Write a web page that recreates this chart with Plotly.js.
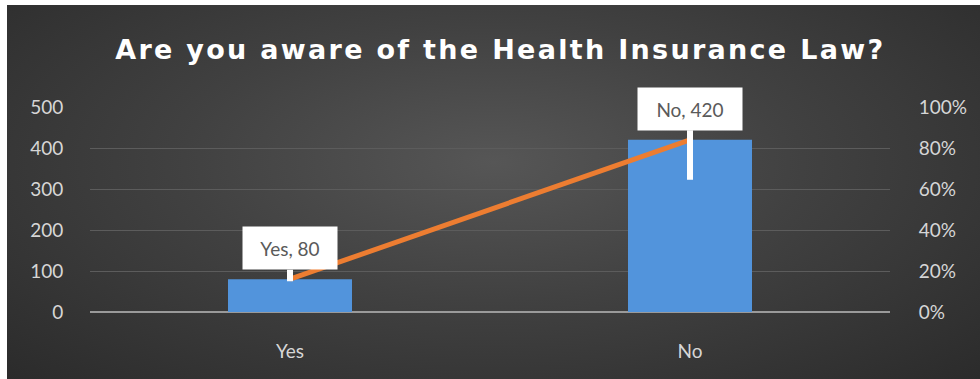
<!DOCTYPE html>
<html>
<head>
<meta charset="utf-8">
<script src="https://cdn.plot.ly/plotly-3.0.1.min.js"></script>
<style>
  html, body { margin: 0; padding: 0; background: #ffffff; width: 980px; height: 379px; overflow: hidden; }
  #wrap { position: absolute; left: 7px; top: 5px; width: 973px; height: 374px;
    background: radial-gradient(ellipse at 50% 42%, #565656 0%, #414141 45%, #2b2b2b 100%); }
  #chart { width: 973px; height: 374px; }
  #chart .gtitle { letter-spacing: 2.3px; }
</style>
</head>
<body>
<div id="wrap"><div id="chart"></div></div>
<script>
const categories = ['Yes', 'No'];
const counts = [80, 420];
const leftTicks = [0, 100, 200, 300, 400, 500];
const rightTicks = [0, 0.2, 0.4, 0.6, 0.8, 1.0];
const rightTickText = ['0%', '20%', '40%', '60%', '80%', '100%'];
const labelText = ['Yes, 80', 'No, 420'];

const total = counts.reduce((a, b) => a + b, 0);
const shares = counts.map(v => v / total);

const tickFont = { family: 'Lato, "Open Sans", sans-serif', size: 19, color: '#d6d6d6' };

const data = [
  { type: 'bar', x: categories, y: counts, width: 0.31,
    marker: { color: '#5294dc', line: { width: 0 } }, yaxis: 'y', hoverinfo: 'skip' },
  { type: 'scatter', mode: 'lines', x: categories, y: shares, yaxis: 'y2',
    line: { color: '#ed7d31', width: 5 }, hoverinfo: 'skip' }
];

const annotations = [
  { x: categories[0], y: counts[0], text: labelText[0], showarrow: true, arrowhead: 0,
    arrowwidth: 6, arrowcolor: '#ffffff', ax: 0, ay: -33, yshift: -2, standoff: 0,
    bgcolor: '#ffffff', borderpad: 6, width: 82, height: 30,
    font: { family: 'Lato, "Open Sans", sans-serif', size: 19, color: '#5a5a5a' } },
  { x: categories[1], y: counts[1], text: labelText[1], showarrow: true, arrowhead: 0,
    arrowwidth: 6, arrowcolor: '#ffffff', ax: 0, ay: -71, yshift: -40, standoff: 0,
    bgcolor: '#ffffff', borderpad: 6, width: 92, height: 30,
    font: { family: 'Lato, "Open Sans", sans-serif', size: 19, color: '#5a5a5a' } }
];

const layout = {
  width: 973, height: 374,
  paper_bgcolor: 'rgba(0,0,0,0)', plot_bgcolor: 'rgba(0,0,0,0)',
  margin: { l: 83, r: 90, t: 102, b: 67 },
  showlegend: false,
  bargap: 0.69,
  title: { text: 'Are you aware of the Health Insurance Law?', x: 0.507, xanchor: 'center',
    y: 0.88, yanchor: 'middle', yref: 'container',
    font: { family: '"DejaVu Sans", sans-serif', size: 27, color: '#ffffff', weight: 'bold' } },
  xaxis: { type: 'category', range: [-0.5, 1.5], showgrid: false, zeroline: false, showline: false,
    ticks: 'outside', ticklen: 22, tickcolor: 'rgba(0,0,0,0)', tickfont: tickFont, fixedrange: true },
  yaxis: { range: [0, 500], tickvals: leftTicks, showgrid: true, gridcolor: '#5c5c5c', gridwidth: 1,
    zeroline: true, zerolinecolor: '#9a9a9a', zerolinewidth: 1.5, showline: false,
    ticks: 'outside', ticklen: 22, tickcolor: 'rgba(0,0,0,0)', tickfont: tickFont, fixedrange: true },
  yaxis2: { range: [0, 1], overlaying: 'y', side: 'right', tickvals: rightTicks, ticktext: rightTickText,
    showgrid: false, zeroline: false, showline: false,
    ticks: 'outside', ticklen: 24, tickcolor: 'rgba(0,0,0,0)', tickfont: tickFont, fixedrange: true },
  annotations: annotations
};

Plotly.newPlot('chart', data, layout, { displayModeBar: false, staticPlot: true });
</script>
</body>
</html>
